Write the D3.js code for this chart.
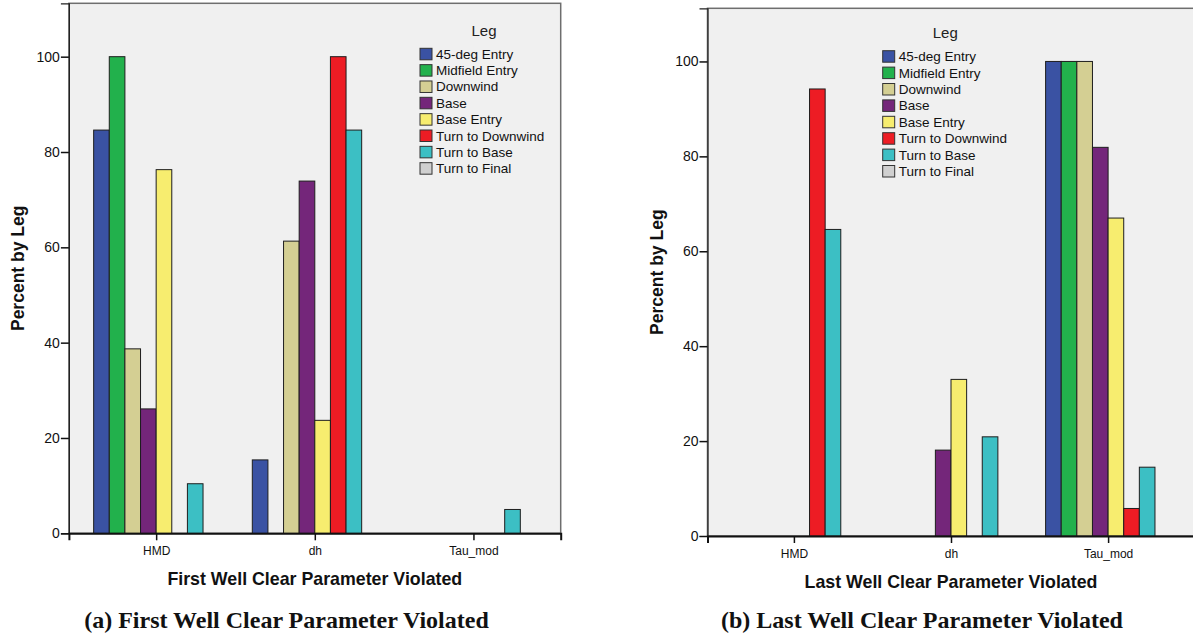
<!DOCTYPE html>
<html>
<head>
<meta charset="utf-8">
<script src="https://cdn.jsdelivr.net/npm/d3@7"></script>
<style>
  html, body { margin: 0; padding: 0; background: #ffffff; }
  svg { display: block; }
</style>
</head>
<body>
<svg id="chart" width="1193" height="636"></svg>
<script>
// ---------------- DATA ----------------
const categories = ["HMD", "dh", "Tau_mod"];
const legs = ["45-deg Entry", "Midfield Entry", "Downwind", "Base", "Base Entry",
              "Turn to Downwind", "Turn to Base", "Turn to Final"];
const legColors = ["#3a52a3", "#22b14c", "#d4cf93", "#74267a", "#f7ed6f",
                   "#ed1c24", "#3cbfc4", "#d0d0d0"];
const yTicks = [0, 20, 40, 60, 80, 100];

// Panel (a): First Well Clear Parameter Violated — percent by leg, values per category [HMD, dh, Tau_mod]
const firstEntry45   = [84.6, 15.4, 0];
const firstMidfield  = [100, 0, 0];
const firstDownwind  = [38.7, 61.3, 0];
const firstBase      = [26.1, 73.9, 0];
const firstBaseEntry = [76.3, 23.7, 0];
const firstTurnDown  = [0, 100, 0];
const firstTurnBase  = [10.4, 84.6, 5.0];
const firstTurnFinal = [0, 0, 0];

// Panel (b): Last Well Clear Parameter Violated
const lastEntry45   = [0, 0, 100];
const lastMidfield  = [0, 0, 100];
const lastDownwind  = [0, 0, 100];
const lastBase      = [0, 18.1, 81.9];
const lastBaseEntry = [0, 33.0, 67.0];
const lastTurnDown  = [94.2, 0, 5.8];
const lastTurnBase  = [64.6, 20.9, 14.5];
const lastTurnFinal = [0, 0, 0];

const firstSeries = [firstEntry45, firstMidfield, firstDownwind, firstBase,
                     firstBaseEntry, firstTurnDown, firstTurnBase, firstTurnFinal];
const lastSeries  = [lastEntry45, lastMidfield, lastDownwind, lastBase,
                     lastBaseEntry, lastTurnDown, lastTurnBase, lastTurnFinal];

// ---------------- DRAW ----------------
const svg = d3.select("#chart");
const SANS = "'Liberation Sans', Arial, sans-serif";
const SERIF = "'Liberation Serif', 'Times New Roman', serif";

function panel(cfg) {
  const g = svg.append("g");
  const x = d3.scalePoint().domain(categories).range([cfg.left, cfg.right]).padding(0.55);
  const inner = d3.scaleBand().domain(legs).range([-62.5, 62.5]).paddingInner(0);
  const y = d3.scaleLinear().domain([0, 111.2]).range([cfg.bottom, cfg.top]);

  // plot frame
  g.append("rect")
    .attr("x", cfg.left).attr("y", cfg.top)
    .attr("width", cfg.right - cfg.left).attr("height", cfg.bottom - cfg.top)
    .attr("fill", "#f0f0f0").attr("stroke", "#6e6e6e").attr("stroke-width", 1.5);

  // bars
  const rows = [];
  cfg.series.forEach((vals, i) => {
    vals.forEach((v, j) => { if (v > 0) rows.push({leg: legs[i], cat: categories[j], v: v, c: legColors[i]}); });
  });
  g.append("g").selectAll("rect").data(rows).join("rect")
    .attr("x", d => x(d.cat) + inner(d.leg))
    .attr("width", inner.bandwidth())
    .attr("y", d => y(d.v))
    .attr("height", d => y(0) - y(d.v))
    .attr("fill", d => d.c)
    .attr("stroke", "#1e1e1e").attr("stroke-width", 1);

  // y axis
  const ya = g.append("g").attr("transform", `translate(${cfg.left},0)`)
    .call(d3.axisLeft(y).tickValues(yTicks).tickSize(8).tickPadding(1));
  ya.select(".domain").attr("stroke", "#222").attr("stroke-width", 1.2);
  ya.selectAll(".tick line").attr("stroke", "#111").attr("stroke-width", 1.5);
  ya.selectAll(".tick text").attr("font-family", SANS).attr("font-size", 14).attr("fill", "#111");

  // x axis
  const xa = g.append("g").attr("transform", `translate(0,${cfg.bottom})`)
    .call(d3.axisBottom(x).tickSize(7).tickPadding(6));
  xa.select(".domain").attr("stroke", "#111").attr("stroke-width", 2);
  xa.selectAll(".tick line").attr("stroke", "#111").attr("stroke-width", 1.5);
  xa.selectAll(".tick text").attr("font-family", SANS).attr("font-size", 12).attr("fill", "#111");

  // axis titles
  g.append("text")
    .attr("x", (cfg.left + cfg.right) / 2).attr("y", cfg.xTitleY)
    .attr("text-anchor", "middle").attr("font-family", SANS).attr("font-weight", "bold")
    .attr("font-size", 17.8).attr("fill", "#111").text(cfg.xTitle);
  g.append("text")
    .attr("transform", `translate(${cfg.left - 45},${(cfg.top + cfg.bottom) / 2}) rotate(-90)`)
    .attr("text-anchor", "middle").attr("font-family", SANS).attr("font-weight", "bold")
    .attr("font-size", 17.5).attr("fill", "#111").text("Percent by Leg");

  // legend
  const lg = g.append("g");
  lg.append("text").attr("x", cfg.legTitleX).attr("y", cfg.legTop - 12.5)
    .attr("text-anchor", "middle").attr("font-family", SANS).attr("font-size", 15)
    .attr("fill", "#222").text("Leg");
  const item = lg.selectAll("g.item").data(legs).join("g")
    .attr("transform", (d, i) => `translate(${cfg.legX},${cfg.legTop + i * cfg.legStep})`);
  item.append("rect").attr("x", 0).attr("y", 0).attr("width", 12).attr("height", 11.5)
    .attr("fill", (d, i) => legColors[i]).attr("stroke", "#333").attr("stroke-width", 1);
  item.append("text").attr("x", 16).attr("y", 10.5)
    .attr("font-family", SANS).attr("font-size", 13.5).attr("fill", "#111").text(d => d);

  // caption
  svg.append("text").attr("x", cfg.capX).attr("y", 628)
    .attr("text-anchor", "middle").attr("font-family", SERIF).attr("font-weight", "bold")
    .attr("font-size", 24).attr("fill", "#111").text(cfg.caption);
}

panel({
  left: 68.9, right: 560.7, top: 3.3, bottom: 533.3,
  series: firstSeries,
  xTitle: "First Well Clear Parameter Violated", xTitleY: 585,
  legX: 420, legTop: 48.3, legStep: 16.34, legTitleX: 484,
  caption: "(a) First Well Clear Parameter Violated", capX: 286.5
});
panel({
  left: 707.5, right: 1194.5, top: 8.3, bottom: 536,
  series: lastSeries,
  xTitle: "Last Well Clear Parameter Violated", xTitleY: 587.5,
  legX: 882.7, legTop: 50.7, legStep: 16.4, legTitleX: 945.3,
  caption: "(b) Last Well Clear Parameter Violated", capX: 922
});
</script>
</body>
</html>
